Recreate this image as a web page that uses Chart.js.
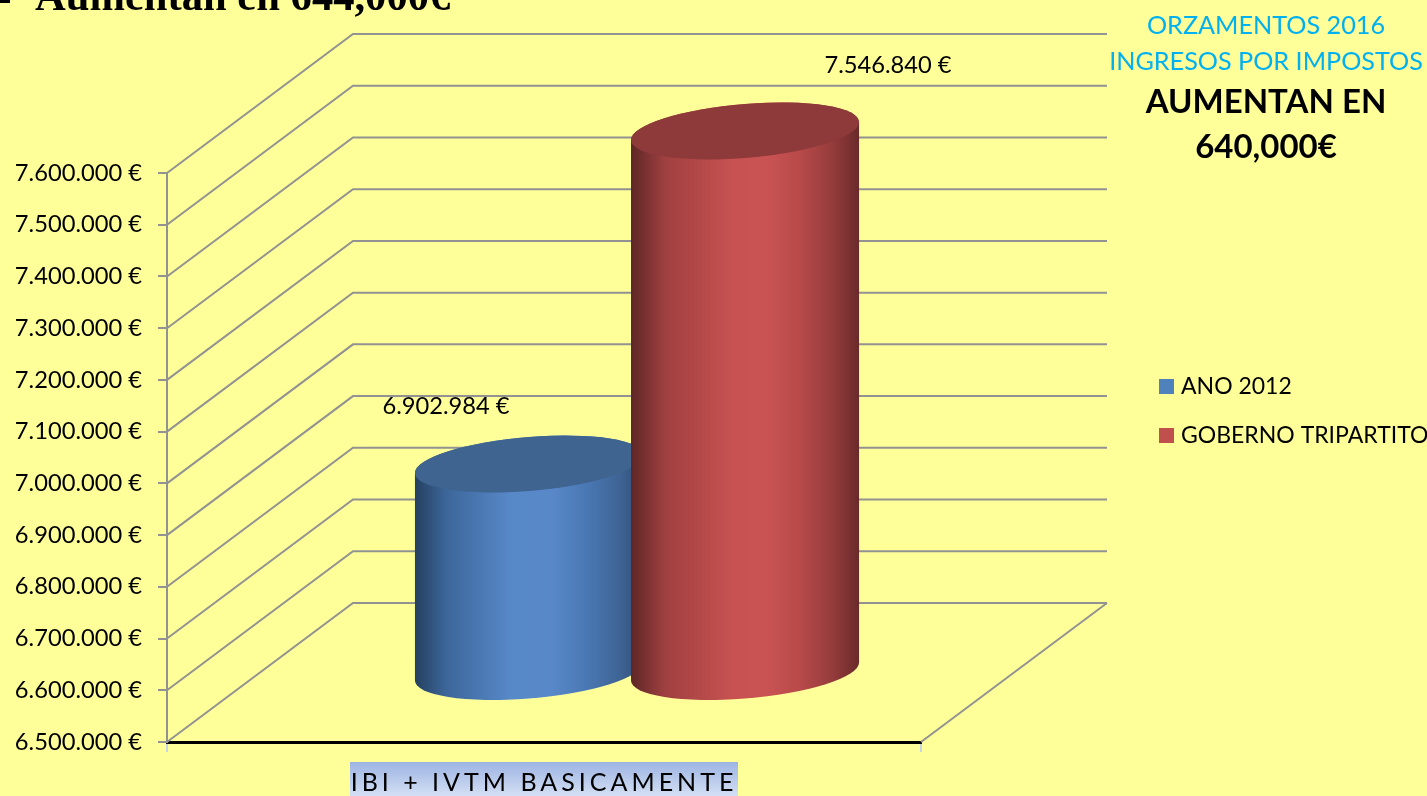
<!DOCTYPE html>
<html lang="gl">
<head>
<meta charset="utf-8">
<title>Ingresos por impostos</title>
<script src="https://cdn.jsdelivr.net/npm/chart.js@4"></script>
<style>
html,body{margin:0;padding:0;background:#FFFF99;overflow:hidden}
#stage{position:relative;width:1427px;height:796px;overflow:hidden;background:#FFFF99}
#stage canvas{position:absolute;left:0;top:0;z-index:2}
.t{position:absolute;white-space:nowrap;z-index:3}
#head{left:35px;top:-29px;font:bold 42.6px "Liberation Serif",serif;color:#000}
#bullet{left:0;top:0;width:10px;height:3px;background:#000}
.side{left:1106px;width:320px;text-align:center;font-family:Lato,sans-serif;line-height:1}
#catbox{position:absolute;left:350px;top:762px;width:388px;height:34px;background:linear-gradient(#9db4e3,#d3dff3);z-index:1}
</style>
</head>
<body>
<div id="stage">
  <div id="catbox"></div>
  <canvas id="c" width="1427" height="796"></canvas>
  <div class="t" id="bullet"></div>
  <div class="t" id="head">Aumentan en 644,000€</div>
  <div class="t side" style="top:12px;font-size:25.2px;color:#00B0F0">ORZAMENTOS 2016</div>
  <div class="t side" style="top:48px;font-size:25.2px;color:#00B0F0">INGRESOS POR IMPOSTOS</div>
  <div class="t side" style="top:84px;font-size:33px;font-weight:700;color:#000">AUMENTAN EN</div>
  <div class="t side" style="top:129px;font-size:33px;font-weight:700;color:#000">640,000€</div>
</div>
<script>
const categories = ['IBI + IVTM BASICAMENTE'];
const seriesNames = ['ANO 2012', 'GOBERNO TRIPARTITO'];
const ano2012 = [6902984];
const tripartito = [7546840];
const axisMin = 6500000;
const axisMax = 7600000;
const axisStep = 100000;

const euro = v => String(Math.round(v)).replace(/\B(?=(\d{3})+$)/g, '.') + ' €';
const FONT = 'Lato';
const GRID = '#929292';
const DEPTH = {x: 186, y: -139};

const looks = [
  {cap:'#3f6490', stops:[[0,'#24405f'],[.14,'#3d679b'],[.42,'#5788c8'],[.6,'#5888c8'],[.75,'#4a78b4'],[.9,'#3e6494'],[1,'#2e4c74']]},
  {cap:'#8f3a3a', stops:[[0,'#5e2626'],[.15,'#a04040'],[.45,'#c85252'],[.6,'#c95353'],[.74,'#b84a4a'],[.88,'#963c3c'],[1,'#6a2a2a']]}
];
const labelOffsets = [{x:-83,y:-58},{x:143,y:-66}];

function cylinder(c,i){
  const el = c.getDatasetMeta(i).data[0];
  const look = looks[i], g = c.ctx;
  const overlap = 6;
  let left = el.x-el.width/2+DEPTH.x/2, right = el.x+el.width/2+DEPTH.x/2;
  if(i===0) right += overlap; else left -= overlap;
  const cx = (left+right)/2, rx = (right-left)/2, ry = 27, skew = -9/rx;
  const top = el.y+DEPTH.y/2, bot = el.base+DEPTH.y/2;
  const grad = g.createLinearGradient(left,0,right,0);
  look.stops.forEach(s=>grad.addColorStop(s[0],s[1]));
  g.save();
  g.beginPath();
  g.transform(1,skew,0,1,cx,top);
  g.ellipse(0,0,rx,ry,0,Math.PI,0,false);
  g.setTransform(1,skew,0,1,cx,bot);
  g.ellipse(0,0,rx,ry,0,0,Math.PI,false);
  g.closePath();
  g.setTransform(1,0,0,1,0,0);
  g.fillStyle = grad; g.fill();
  g.beginPath();
  g.transform(1,skew,0,1,cx,top);
  g.ellipse(0,0,rx,ry,0,0,Math.PI*2);
  g.setTransform(1,0,0,1,0,0);
  g.fillStyle = look.cap; g.fill();
  g.restore();
}

const walls = {
  id:'walls',
  beforeLayout(c){
    const l = c.legend;
    if(l && !l._wrapped){
      const fit = l.fit;
      l.fit = function(){ fit.call(this); this.width = 506; };
      l._wrapped = true;
    }
  },
  afterLayout(c){
    const l = c.legend;
    const shift = 1163.5 - 26 - l.left;
    l.left += shift; l.right += shift;
    l.top = 0; l.bottom = 822;
    l.adjustHitBoxes();
    const x = c.scales.x;
    if(!x._spaced){
      const draw = x.drawLabels;
      x.drawLabels = function(a){
        const g = this.ctx; g.save(); g.letterSpacing = '4px';
        draw.call(this,a); g.restore();
      };
      x._spaced = true;
    }
  },
  beforeDatasetsDraw(c){
    const g = c.ctx, a = c.chartArea, y = c.scales.y;
    g.save();
    g.strokeStyle = GRID; g.lineWidth = 2;
    y.ticks.forEach(t=>{
      const p = y.getPixelForValue(t.value);
      g.beginPath();
      g.moveTo(a.left,p);
      g.lineTo(a.left+DEPTH.x,p+DEPTH.y);
      g.lineTo(a.right+DEPTH.x,p+DEPTH.y);
      g.stroke();
    });
    g.beginPath();
    g.moveTo(a.right,a.bottom);
    g.lineTo(a.right+DEPTH.x,a.bottom+DEPTH.y);
    g.stroke();
    g.strokeStyle = '#c9d4e6';
    g.beginPath();
    g.moveTo(a.left,a.bottom+2); g.lineTo(a.left,a.bottom+10);
    g.moveTo(a.right,a.bottom+2); g.lineTo(a.right,a.bottom+10);
    g.stroke();
    g.restore();
    c.data.datasets.forEach((d,i)=>cylinder(c,i));
  },
  beforeDatasetDraw(){ return false; },
  afterDatasetsDraw(c){
    const g = c.ctx;
    g.save();
    g.font = '23.7px '+FONT; g.fillStyle = '#000';
    g.textAlign = 'center'; g.textBaseline = 'middle';
    c.data.datasets.forEach((d,i)=>{
      const el = c.getDatasetMeta(i).data[0];
      const cx = el.x+DEPTH.x/2+(i===0?3:-3);
      g.fillText(euro(d.data[0]), cx+labelOffsets[i].x, el.y+DEPTH.y/2+labelOffsets[i].y);
    });
    g.restore();
  }
};

new Chart(document.getElementById('c'),{
  type:'bar',
  data:{
    labels:categories,
    datasets:[
      {label:seriesNames[0],data:ano2012,base:axisMin,backgroundColor:'#4F81BD',borderWidth:0,categoryPercentage:.589,barPercentage:1},
      {label:seriesNames[1],data:tripartito,base:axisMin,backgroundColor:'#C0504D',borderWidth:0,categoryPercentage:.589,barPercentage:1}
    ]
  },
  plugins:[walls],
  options:{
    responsive:false,
    animation:false,
    layout:{padding:{top:173,left:0,right:0,bottom:0}},
    plugins:{
      title:{display:false},
      tooltip:{enabled:false},
      legend:{
        position:'right',
        align:'center',
        labels:{usePointStyle:true,pointStyle:'rect',boxWidth:6,boxHeight:15,padding:26,color:'#000',font:{family:FONT,size:23}}
      }
    },
    scales:{
      x:{
        grid:{display:true,drawOnChartArea:false,drawTicks:false},
        border:{color:'#000',width:3},
        ticks:{color:'#000',padding:26,font:{family:FONT,size:25}},
        afterFit(s){s.height=54;}
      },
      y:{
        min:axisMin,max:axisMax,
        grid:{drawOnChartArea:false,drawTicks:true,tickLength:9,color:GRID,lineWidth:2},
        border:{color:GRID,width:2},
        ticks:{stepSize:axisStep,padding:16,color:'#000',font:{family:FONT,size:23.7},callback:v=>euro(v)},
        afterFit(s){s.width=167;}
      }
    }
  }
});
</script>
</body>
</html>
